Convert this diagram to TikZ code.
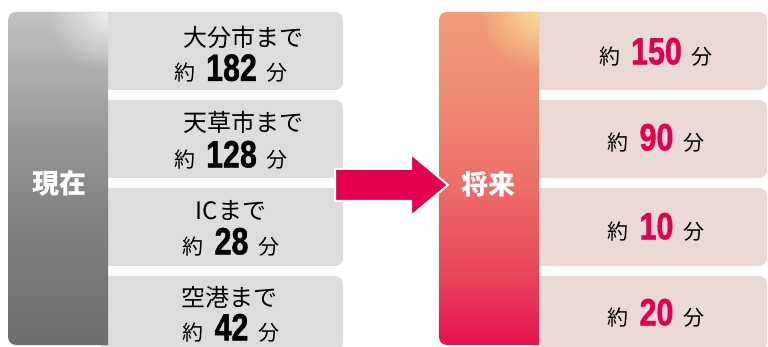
\documentclass[tikz,border=0pt]{standalone}
\usepackage{fontspec}
\setmainfont{Noto Sans CJK JP}
\newfontfamily\numfont{Liberation Sans}[FakeStretch=0.8, BoldFeatures={FakeBold=1.2}]
\usetikzlibrary{positioning, calc, fadings}

\definecolor{nowbot}{HTML}{6E6E6E}
\definecolor{nowlow}{HTML}{7C7C7C}
\definecolor{nowmid}{HTML}{949494}
\definecolor{nowtop}{HTML}{C2C2C2}
\definecolor{nowshine}{HTML}{EDEDED}
\definecolor{nowgray}{HTML}{DDDDDD}
\definecolor{futred}{HTML}{E4124F}
\definecolor{futpink}{HTML}{E8465A}
\definecolor{futcoral}{HTML}{EC7068}
\definecolor{futorange}{HTML}{EF8A72}
\definecolor{futsalmon}{HTML}{F09C79}
\definecolor{futyellow}{HTML}{F8DE98}
\definecolor{futpale}{HTML}{EAD9D5}
\definecolor{arrowred}{HTML}{E4004F}

\tikzfading[name=glow, inner color=transparent!0, outer color=transparent!100]

\pgfdeclareverticalshading{nowshade}{100bp}{color(0bp)=(nowbot); color(25bp)=(nowbot); color(40bp)=(nowlow); color(55bp)=(nowmid); color(75bp)=(nowtop); color(100bp)=(nowtop)}
\pgfdeclareverticalshading{futshade}{100bp}{color(0bp)=(futred); color(25bp)=(futred); color(36bp)=(futpink); color(50bp)=(futcoral); color(62bp)=(futorange); color(75bp)=(futsalmon); color(100bp)=(futsalmon)}

\newcommand{\timenow}[1]{約\hspace{11pt}{\numfont\bfseries\fontsize{38}{40}\selectfont #1}\hspace{10pt}分}
\newcommand{\timefut}[1]{約\hspace{11pt}{\numfont\bfseries\fontsize{38}{40}\selectfont\color{arrowred}#1}\hspace{10pt}分}

\begin{document}
\begin{tikzpicture}[
        x=1pt, y=-1pt,
        every node/.style={inner sep=0pt},
        nowbox/.style={fill=nowgray, rounded corners=8pt, minimum width=243pt},
        futbox/.style={fill=futpale, rounded corners=8pt, minimum width=236pt},
        nowcol/.style={shade, shading=nowshade, minimum width=100pt, minimum height=333pt},
        futcol/.style={shade, shading=futshade, minimum width=100pt, minimum height=333pt},
        collabel/.style={text=white, font=\bfseries\fontsize{27}{30}\selectfont},
        place/.style={font=\fontsize{24}{28}\selectfont},
        mins/.style={font=\fontsize{21}{26}\selectfont},
        bigarrow/.style={fill=arrowred, draw=white, line width=2pt, line join=miter}
    ]
    \useasboundingbox (0,0) rectangle (768,347);

    % Boxes
    \node[nowbox, minimum height=78pt] (now1) at (221.5,51) {};
    \node[nowbox, minimum height=78pt] (now2) at (221.5,139) {};
    \node[nowbox, minimum height=78pt] (now3) at (221.5,227) {};
    \node[nowbox, minimum height=74pt] (now4) at (221.5,313) {};
    \node[futbox, minimum height=78pt] (fut1) at (649,51) {};
    \node[futbox, minimum height=78pt] (fut2) at (649,139) {};
    \node[futbox, minimum height=78pt] (fut3) at (649,227) {};
    \node[futbox, minimum height=74pt] (fut4) at (649,313) {};

    % Columns
    \begin{scope}
        \clip[rounded corners=8pt] (8,12) rectangle (200,345);
        \clip (8,12) rectangle (108,345);
        \node[nowcol] (now) at (58,178.5) {};
        \fill[nowshine, path fading=glow] (now.north east) circle (60pt);
    \end{scope}
    \begin{scope}
        \clip[rounded corners=8pt] (439,12) rectangle (600,345);
        \clip (439,12) rectangle (539,345);
        \node[futcol] (fut) at (489,178.5) {};
        \fill[futyellow, path fading=glow] (fut.north east) circle (60pt);
    \end{scope}
    \node[collabel] (nowlabel) at (59.5,183) {現在};
    \node[collabel] (futlabel) at (488.5,184) {将来};

    % Texts
    \node[place] (place1) at (243.5,37.5) {大分市まで};
    \node[mins] (time1) at (231,68.5) {\timenow{182}};
    \node[place] (place2) at (243.5,122.5) {天草市まで};
    \node[mins] (time2) at (231,155) {\timenow{128}};
    \node[place] (place3) at (231,211) {ICまで};
    \node[mins] (time3) at (231,242) {\timenow{28}};
    \node[place] (place4) at (229.5,297.5) {空港まで};
    \node[mins] (time4) at (231,328) {\timenow{42}};
    \node[mins] (futtime1) at (656,52) {\timefut{150}};
    \node[mins] (futtime2) at (656,138) {\timefut{90}};
    \node[mins] (futtime3) at (656,227) {\timefut{10}};
    \node[mins] (futtime4) at (656,313) {\timefut{20}};

    % Arrow
    \coordinate (tail) at (335,185);
    \coordinate (tip) at (448,185);
    \filldraw[bigarrow] ($(tail)+(0,-16)$) -- ($(tip)+(-37,-16)$) -- ($(tip)+(-37,-31)$) -- (tip)
        -- ($(tip)+(-37,31)$) -- ($(tip)+(-37,16)$) -- ($(tail)+(0,16)$) -- cycle;

\end{tikzpicture}
\end{document}
